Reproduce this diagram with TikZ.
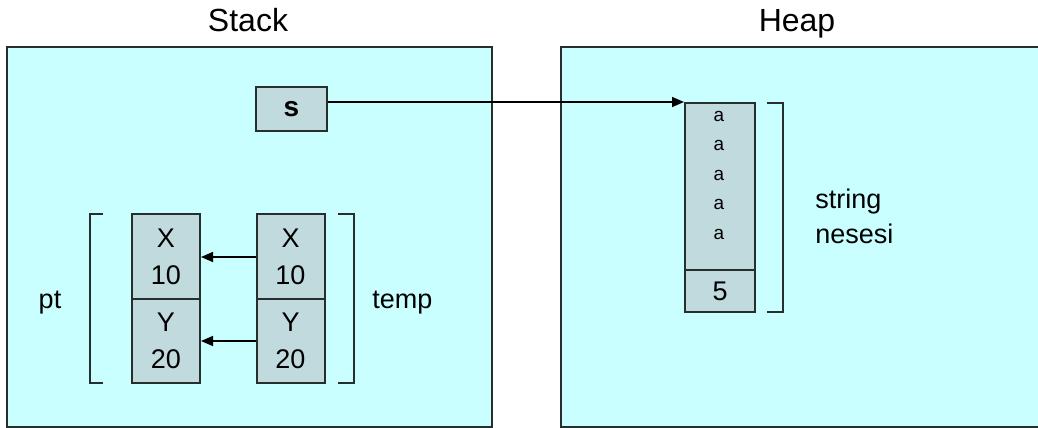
\documentclass[tikz,border=0pt]{standalone}
\usepackage{fontspec}
\setmainfont{Liberation Sans}
\usetikzlibrary{arrows.meta}
\definecolor{memfill}{RGB}{202,255,255}
\definecolor{cellfill}{RGB}{192,218,222}
\definecolor{edgecol}{RGB}{38,46,46}
\begin{document}
\begin{tikzpicture}[x=0.5pt,y=-0.5pt,
  region/.style={draw=edgecol, line width=1.2pt, fill=memfill, inner sep=0pt},
  cell/.style={draw=edgecol, line width=1pt, fill=cellfill, inner sep=0pt, align=center,
    font=\fontsize{13.5pt}{18.5pt}\selectfont, minimum width=34pt},
  title/.style={font=\fontsize{16pt}{18pt}\selectfont, inner sep=0pt},
  lbl/.style={font=\fontsize{13.5pt}{17pt}\selectfont, inner sep=0pt, align=left},
  conn/.style={draw=black, line width=0.8pt, -{Triangle[length=6pt,width=5pt]}},
  brk/.style={draw=edgecol, line width=1pt}]
\useasboundingbox (0,0) rectangle (1038,428);
\clip (0,0) rectangle (1038,428);
% memory regions
\node[region, minimum width=242.5pt, minimum height=190pt] (stack) at (249.5,237) {};
\node[region, minimum width=242pt, minimum height=190pt] (heap) at (803,237) {};
\node[title, anchor=base] (stacktitle) at (248,32) {Stack};
\node[title, anchor=base] (heaptitle) at (797,32) {Heap};
% s reference
\node[cell, minimum width=35.5pt, minimum height=22pt, font=\fontsize{14pt}{16pt}\selectfont\bfseries] (s) at (291.5,109) {s};
% point structs
\node[cell, minimum height=42.5pt] (pX) at (166,256.5) {X\\10};
\node[cell, minimum height=42pt] (pY) at (166,341) {Y\\20};
\node[cell, minimum height=42.5pt] (tX) at (290.5,256.5) {X\\10};
\node[cell, minimum height=42pt] (tY) at (290.5,341) {Y\\20};
\draw[conn] ([yshift=-0.25pt]tX.west) -- ([yshift=-0.25pt]pX.east);
\draw[conn] (tY.west) -- (pY.east);
% brackets
\draw[brk] (103,214) -- (90,214) -- (90,383) -- (103,383);
\draw[brk] (338,214) -- (354,214) -- (354,383) -- (338,383);
\node[lbl, anchor=base] (ptlbl) at (50,308) {pt};
\node[lbl, anchor=base west] (templbl) at (372,308) {temp};
% heap string
\node[cell, minimum width=35pt, minimum height=83.5pt] (abox) at (720,186.5) {};
\node[inner sep=0pt, align=center, font=\fontsize{9.5pt}{14.75pt}\selectfont] (achars) at (719,175) {a\\a\\a\\a\\a};
\node[cell, minimum width=35pt, minimum height=21pt] (len) at (720,291) {5};
\draw[brk] (767,103) -- (783,103) -- (783,312) -- (767,312);
\node[lbl, anchor=base west] (strlbl1) at (815,208) {string};
\node[lbl, anchor=base west] (strlbl2) at (815,243) {nesesi};
\draw[conn] ([yshift=3.5pt]s.east) -- (abox.north west);
\end{tikzpicture}
\end{document}
